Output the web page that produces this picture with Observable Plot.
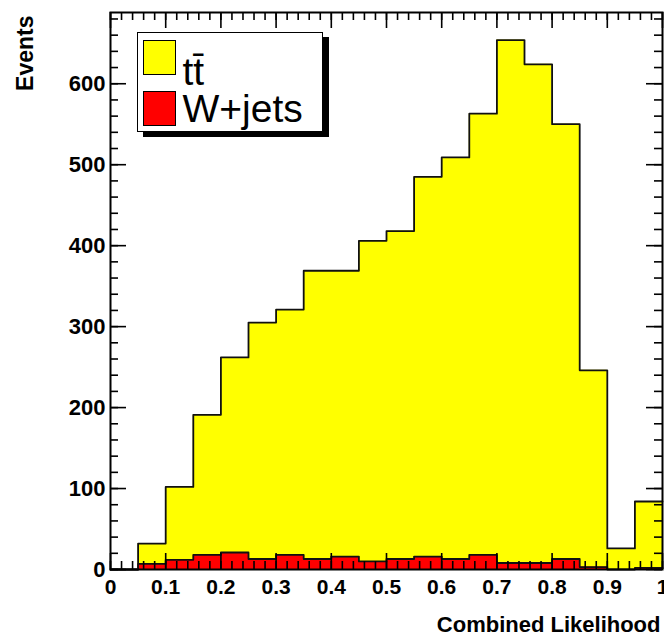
<!DOCTYPE html>
<html>
<head>
<meta charset="utf-8">
<script src="https://cdn.jsdelivr.net/npm/d3@7"></script>
<script src="https://cdn.jsdelivr.net/npm/@observablehq/plot@0.6"></script>
<style>
  body { margin: 0; background: #fff; }
  #wrap { position: relative; width: 664px; height: 636px; font-family: "Liberation Sans", Arial, sans-serif; }
  #legend { position: absolute; left: 137px; top: 32px; width: 184px; height: 98px;
            border: 1.5px solid #000; background: #fff; box-shadow: 6px 5px 0 #000; }
  .sw { position: absolute; left: 4.5px; width: 31px; height: 33px; border: 1px solid #000; }
  .lab { position: absolute; left: 44.5px; font-size: 39px; line-height: 39px; color: #000; white-space: nowrap; }
</style>
</head>
<body>
<div id="wrap">
  <div id="legend">
    <div class="sw" style="top:6.5px;background:#ffff00"></div>
    <div class="lab" style="top:19px">tt&#x0304;</div>
    <div class="sw" style="top:57.5px;background:#ff0000"></div>
    <div class="lab" style="top:56px">W+jets</div>
  </div>
</div>
<script>
// Histogram bins (lower edges), bin width 0.05
const binLow = [0, 0.05, 0.10, 0.15, 0.20, 0.25, 0.30, 0.35, 0.40, 0.45,
                0.50, 0.55, 0.60, 0.65, 0.70, 0.75, 0.80, 0.85, 0.90, 0.95];
// ttbar contribution (stacked on top of W+jets)
const ttbar = [0, 25, 90, 173, 241, 292, 303, 356, 353, 396,
               405, 469, 496, 545, 646, 616, 537, 243, 26, 82];
// W+jets contribution
const wjets = [0, 7, 12, 18, 21, 13, 18, 13, 16, 10,
               13, 16, 13, 18, 8, 8, 13, 3, 0, 2];

const xTickLabels = ["0", "0.1", "0.2", "0.3", "0.4", "0.5", "0.6", "0.7", "0.8", "0.9", "1"];
const xMajor = [0, 0.1, 0.2, 0.3, 0.4, 0.5, 0.6, 0.7, 0.8, 0.9, 1];
const yMajor = [0, 100, 200, 300, 400, 500, 600];
const xMinor = d3.range(0, 1.001, 0.02);
const yMinor = d3.range(0, 688, 20);

const rows = binLow.map((x, i) => ({x, total: ttbar[i] + wjets[i], wj: wjets[i]}));
rows.push({x: 1, total: rows[rows.length - 1].total, wj: rows[rows.length - 1].wj});

const W = 664, H = 636, mL = 110, mR = 2, mT = 12, mB = 67;
const iW = W - mL - mR, iH = H - mT - mB;
const major = 16, minor = 8;
const tickStyle = {stroke: "#000", strokeOpacity: 1, strokeWidth: 1.6};

const chart = Plot.plot({
  width: W, height: H,
  marginLeft: mL, marginRight: mR, marginTop: mT, marginBottom: mB,
  style: {fontFamily: "Liberation Sans, Arial, sans-serif", background: "#fff", color: "#000"},
  x: {domain: [0, 1], label: null},
  y: {domain: [0, 688], label: null},
  marks: [
    Plot.areaY(rows, {x: "x", y: "total", curve: "step-after", fill: "#ffff00"}),
    Plot.lineY(rows, {x: "x", y: "total", curve: "step-after", stroke: "#111", strokeWidth: 1.8}),
    Plot.areaY(rows, {x: "x", y: "wj", curve: "step-after", fill: "#ff0000"}),
    Plot.lineY(rows, {x: "x", y: "wj", curve: "step-after", stroke: "#111", strokeWidth: 1.8}),
    // inward ticks on all four sides
    Plot.gridX(xMajor, {...tickStyle, insetTop: iH - major}),
    Plot.gridX(xMinor, {...tickStyle, insetTop: iH - minor}),
    Plot.gridX(xMajor, {...tickStyle, insetBottom: iH - major}),
    Plot.gridX(xMinor, {...tickStyle, insetBottom: iH - minor}),
    Plot.gridY(yMajor, {...tickStyle, insetRight: iW - major}),
    Plot.gridY(yMinor, {...tickStyle, insetRight: iW - minor}),
    Plot.gridY(yMajor, {...tickStyle, insetLeft: iW - major}),
    Plot.gridY(yMinor, {...tickStyle, insetLeft: iW - minor}),
    Plot.axisX(xMajor, {tickSize: 0, tickPadding: 10, fontSize: 21, fontWeight: "bold",
                        tickFormat: (d, i) => xTickLabels[i], label: null}),
    Plot.axisY(yMajor, {tickSize: 0, tickPadding: 5, fontSize: 22, fontWeight: "bold", label: null}),
    Plot.text(["Events"], {frameAnchor: "top-left", rotate: -90, textAnchor: "end", lineAnchor: "middle",
                           dx: -85, dy: 3, fontSize: 23, fontWeight: "bold"}),
    Plot.text(["Combined Likelihood"], {frameAnchor: "bottom-right", textAnchor: "end", lineAnchor: "middle",
                           dx: -2, dy: 55, fontSize: 22, fontWeight: "bold"}),
    Plot.frame({stroke: "#000", strokeWidth: 2})
  ]
});
document.getElementById("wrap").prepend(chart);
</script>
</body>
</html>
